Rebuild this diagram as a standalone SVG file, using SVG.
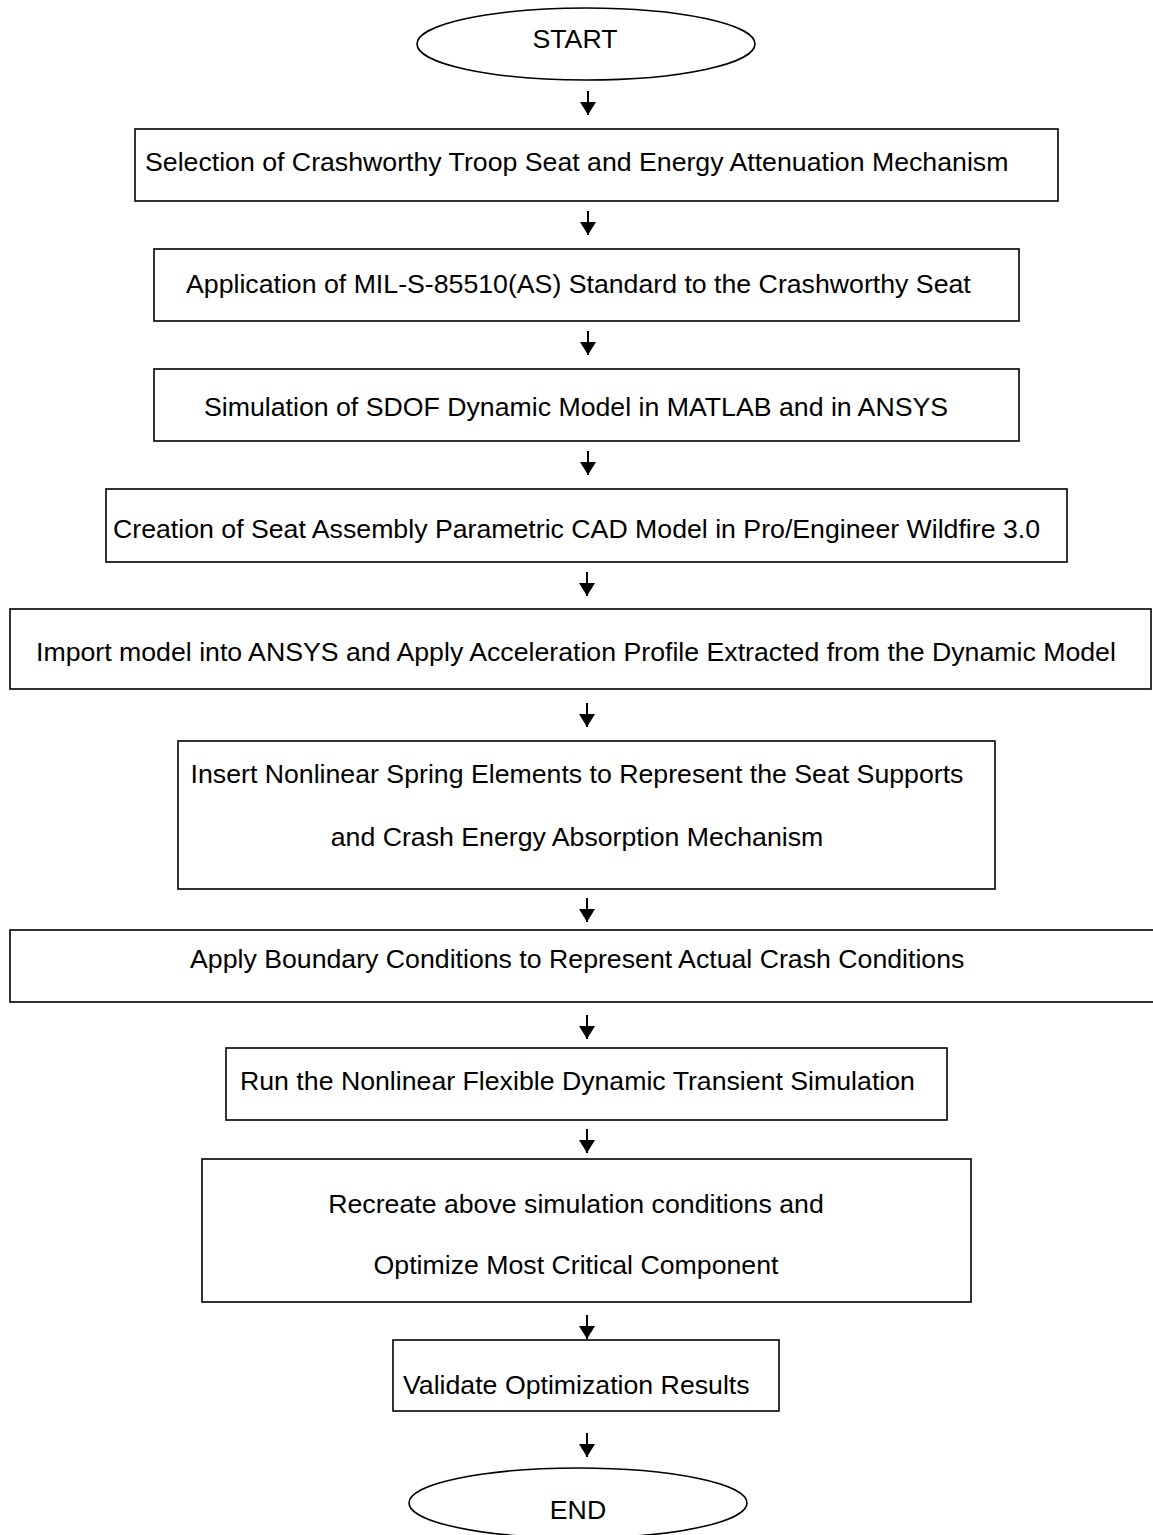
<svg xmlns="http://www.w3.org/2000/svg" width="1153" height="1535" viewBox="0 0 1153 1535">
<defs>
<style>
.box{fill:#fff;stroke:#000;stroke-width:1.6}
.t{font-family:"Liberation Sans",Arial,sans-serif;font-size:26.7px;fill:#000}
.m{text-anchor:middle}
.c{stroke:#000;stroke-width:2;fill:none}
</style>
<marker id="ah" markerUnits="userSpaceOnUse" markerWidth="14" markerHeight="16" refX="13" refY="8" orient="auto" viewBox="0 0 13 16"><path d="M0,0 L13,8 L0,16 z" fill="#000"/></marker>
</defs>
<rect width="1153" height="1535" fill="#fff"/>
<g id="start"><ellipse class="box" cx="586" cy="44" rx="169" ry="36"/><text class="t m" x="575" y="48">START</text></g>
<g id="n1"><rect class="box" x="135" y="129" width="923" height="72"/><text class="t" x="145" y="171">Selection of Crashworthy Troop Seat and Energy Attenuation Mechanism</text></g>
<g id="n2"><rect class="box" x="154" y="249" width="865" height="72"/><text class="t" x="186" y="293">Application of MIL-S-85510(AS) Standard to the Crashworthy Seat</text></g>
<g id="n3"><rect class="box" x="154" y="369" width="865" height="72"/><text class="t" x="204" y="416">Simulation of SDOF Dynamic Model in MATLAB and in ANSYS</text></g>
<g id="n4"><rect class="box" x="106" y="489" width="961" height="73"/><text class="t" x="113" y="538">Creation of Seat Assembly Parametric CAD Model in Pro/Engineer Wildfire 3.0</text></g>
<g id="n5"><rect class="box" x="10" y="609" width="1141" height="80"/><text class="t" x="36" y="661">Import model into ANSYS and Apply Acceleration Profile Extracted from the Dynamic Model</text></g>
<g id="n6"><rect class="box" x="178" y="741" width="817" height="148"/><text class="t m" x="577" y="783">Insert Nonlinear Spring Elements to Represent the Seat Supports</text><text class="t m" x="577" y="846">and Crash Energy Absorption Mechanism</text></g>
<g id="n7"><rect class="box" x="10" y="930" width="1160" height="72"/><text class="t" x="190" y="968">Apply Boundary Conditions to Represent Actual Crash Conditions</text></g>
<g id="n8"><rect class="box" x="226" y="1048" width="721" height="72"/><text class="t" x="240" y="1090">Run the Nonlinear Flexible Dynamic Transient Simulation</text></g>
<g id="n9"><rect class="box" x="202" y="1159" width="769" height="143"/><text class="t m" x="576" y="1213">Recreate above simulation conditions and</text><text class="t m" x="576" y="1274">Optimize Most Critical Component</text></g>
<g id="n10"><rect class="box" x="393" y="1340" width="386" height="71"/><text class="t" x="403" y="1394">Validate Optimization Results</text></g>
<g id="end"><ellipse class="box" cx="578" cy="1503" rx="169" ry="35"/><text class="t m" x="578" y="1519">END</text></g>
<g id="connectors">
<line class="c" x1="588" y1="91" x2="588" y2="115" marker-end="url(#ah)"/>
<line class="c" x1="588" y1="211" x2="588" y2="235" marker-end="url(#ah)"/>
<line class="c" x1="588" y1="331" x2="588" y2="355" marker-end="url(#ah)"/>
<line class="c" x1="588" y1="451" x2="588" y2="475" marker-end="url(#ah)"/>
<line class="c" x1="587" y1="572" x2="587" y2="596" marker-end="url(#ah)"/>
<line class="c" x1="587" y1="703" x2="587" y2="727" marker-end="url(#ah)"/>
<line class="c" x1="587" y1="898" x2="587" y2="922" marker-end="url(#ah)"/>
<line class="c" x1="587" y1="1015" x2="587" y2="1039" marker-end="url(#ah)"/>
<line class="c" x1="587" y1="1129" x2="587" y2="1153" marker-end="url(#ah)"/>
<line class="c" x1="587" y1="1315" x2="587" y2="1339" marker-end="url(#ah)"/>
<line class="c" x1="587" y1="1433" x2="587" y2="1457" marker-end="url(#ah)"/>
</g>
</svg>
